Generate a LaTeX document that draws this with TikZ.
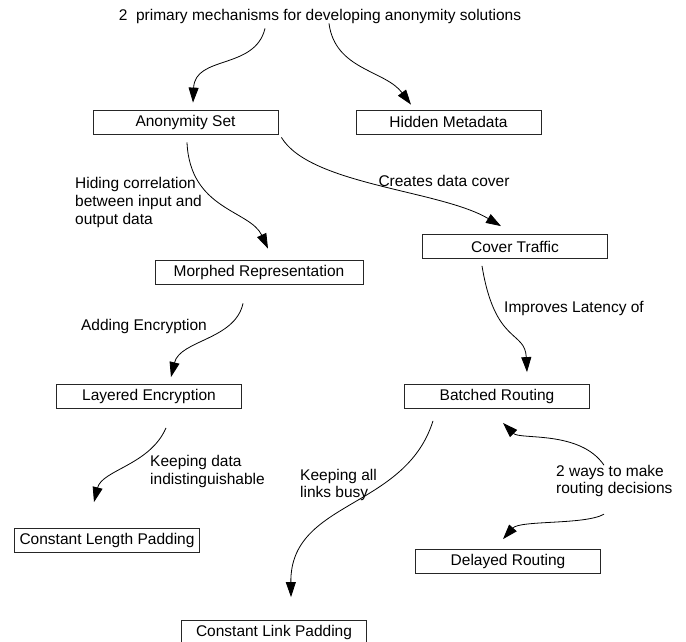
\documentclass[tikz,border=0pt]{standalone}
\usepackage{fontspec}
\setmainfont{Liberation Sans}
\usetikzlibrary{arrows.meta}
\tikzset{
  boxnode/.style={draw=black!85, line width=0.8pt, minimum width=185pt, minimum height=24pt, inner sep=0pt},
  lbl/.style={inner sep=0pt, align=left},
  conn/.style={line width=0.8pt, -{Triangle[length=15pt,width=10pt]}},
}
\begin{document}
\begin{tikzpicture}[x=1pt,y=-1pt,font=\fontsize{15.5}{17.5}\selectfont]
\useasboundingbox (0,0) rectangle (686,641);
% nodes
\node[lbl] (title) at (320,16) {2\ \ primary mechanisms for developing anonymity solutions};
\node[boxnode] (anon) at (185.5,122) {Anonymity Set};
\node[boxnode] (hidden) at (448.5,122) {Hidden Metadata};
\node[boxnode] (cover) at (515,246.5) {Cover Traffic};
\node[boxnode, minimum width=208pt] (morph) at (259,272) {Morphed Representation};
\node[boxnode] (layered) at (149,396.5) {Layered Encryption};
\node[boxnode] (batched) at (497,396.5) {Batched Routing};
\node[boxnode] (clp) at (107,540.5) {Constant Length Padding};
\node[boxnode] (delayed) at (508,561.5) {Delayed Routing};
\node[boxnode] (clink) at (274,632.5) {Constant Link Padding};
% labels
\node[lbl, anchor=west, font=\fontsize{15.5}{18}\selectfont] (lhide) at (75,202.5) {Hiding correlation\\between input and\\output data};
\node[lbl] (lcreate) at (444,181) {Creates data cover};
\node[lbl, anchor=west] (limprove) at (504,308) {Improves Latency of};
\node[lbl] (ladd) at (144,326) {Adding Encryption};
\node[lbl, anchor=west] (lkeepd) at (150,471.5) {Keeping data\\indistinguishable};
\node[lbl, anchor=west] (lkeepl) at (300,485) {Keeping all\\links busy};
\node[lbl, anchor=west] (ltwo) at (556,481) {2 ways to make\\routing decisions};
% connectors
\draw[conn] ([shift={(-55,5)}]title.south) .. controls (255,70) and (195,55) .. ([shift={(7.5,-7)}]anon.north);
\draw[conn] ([shift={(9,0)}]title.south) .. controls (335,70) and (385,70) .. ([shift={(-37.5,-5)}]hidden.north);
\draw[conn] ([shift={(1.5,8)}]anon.south) .. controls (190,210) and (250,210) .. ([shift={(9,-11)}]morph.north);
\draw[conn] ([shift={(3,3)}]anon.south east) .. controls (310,185) and (440,190) .. ([shift={(-14,-8)}]cover.north);
\draw[conn] ([shift={(-33,7)}]cover.south) .. controls (495,345) and (525,330) .. ([shift={(30,-12)}]batched.north);
\draw[conn] ([shift={(-16,19)}]morph.south) .. controls (235,340) and (180,340) .. ([shift={(22,-7)}]layered.north);
\draw[conn] ([shift={(17,19)}]layered.south) .. controls (150,465) and (102,470) .. ([shift={(-13,-26)}]clp.north);
\draw[conn] ([shift={(-64,12)}]batched.south) .. controls (405,510) and (290,500) .. ([shift={(17,-23)}]clink.north);
\draw[conn] ([shift={(48,-32)}]ltwo.south west) .. controls (580,430) and (520,440) .. ([shift={(6,14)}]batched.south);
\draw[conn] ([shift={(48,17)}]ltwo.south west) .. controls (585,525) and (520,520) .. ([shift={(-5,-10)}]delayed.north);
\end{tikzpicture}
\end{document}
